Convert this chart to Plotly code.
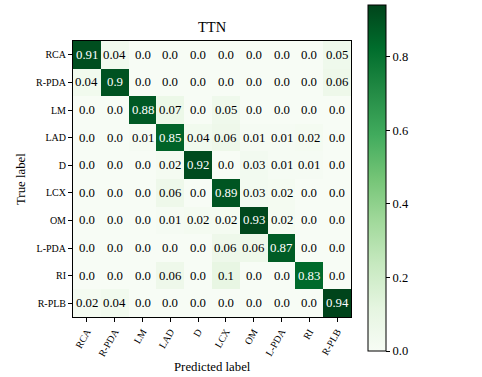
import plotly.graph_objects as go

# Class names (same order for true and predicted axes)
classes = ["RCA", "R-PDA", "LM", "LAD", "D", "LCX", "OM", "L-PDA", "RI", "R-PLB"]

# Normalised confusion matrix, rows = true label, columns = predicted label
row_rca   = [0.91, 0.04, 0.0, 0.0, 0.0, 0.0, 0.0, 0.0, 0.0, 0.05]
row_rpda  = [0.04, 0.9, 0.0, 0.0, 0.0, 0.0, 0.0, 0.0, 0.0, 0.06]
row_lm    = [0.0, 0.0, 0.88, 0.07, 0.0, 0.05, 0.0, 0.0, 0.0, 0.0]
row_lad   = [0.0, 0.0, 0.01, 0.85, 0.04, 0.06, 0.01, 0.01, 0.02, 0.0]
row_d     = [0.0, 0.0, 0.0, 0.02, 0.92, 0.0, 0.03, 0.01, 0.01, 0.0]
row_lcx   = [0.0, 0.0, 0.0, 0.06, 0.0, 0.89, 0.03, 0.02, 0.0, 0.0]
row_om    = [0.0, 0.0, 0.0, 0.01, 0.02, 0.02, 0.93, 0.02, 0.0, 0.0]
row_lpda  = [0.0, 0.0, 0.0, 0.0, 0.0, 0.06, 0.06, 0.87, 0.0, 0.0]
row_ri    = [0.0, 0.0, 0.0, 0.06, 0.0, 0.1, 0.0, 0.0, 0.83, 0.0]
row_rplb  = [0.02, 0.04, 0.0, 0.0, 0.0, 0.0, 0.0, 0.0, 0.0, 0.94]

matrix = [row_rca, row_rpda, row_lm, row_lad, row_d,
          row_lcx, row_om, row_lpda, row_ri, row_rplb]

cbar_ticks = [0.0, 0.2, 0.4, 0.6, 0.8]

FONT = "Liberation Serif"

greens = [
    [0.000, "#f7fcf5"], [0.125, "#e5f5e0"], [0.250, "#c7e9c0"],
    [0.375, "#a1d99b"], [0.500, "#74c476"], [0.625, "#41ab5d"],
    [0.750, "#238b45"], [0.875, "#006d2c"], [1.000, "#00441b"],
]

zmax = max(max(r) for r in matrix)
thresh = zmax / 2.0

L, R, T, B = 73, 131, 41, 60
W, H = 482, 377
pw, ph = W - L - R, H - T - B

# Colorbar box: left edge at x=368 px, spanning y=5..351 px
cb_top, cb_bot = 5, 351

fig = go.Figure()
fig.add_trace(go.Heatmap(
    z=matrix, x=classes, y=classes,
    colorscale=greens, zmin=0, zmax=zmax,
    hoverinfo="skip",
    colorbar=dict(
        x=(368 - L) / pw, xanchor="left", xref="paper", xpad=0,
        y=(H - B - (cb_top + cb_bot) / 2) / ph, yanchor="middle", ypad=0,
        thickness=18, thicknessmode="pixels",
        len=cb_bot - cb_top, lenmode="pixels",
        outlinecolor="black", outlinewidth=1,
        ticks="outside", ticklen=4, tickcolor="black",
        tickvals=cbar_ticks, ticktext=[f"{v:.1f}" for v in cbar_ticks],
        tickfont=dict(family=FONT, size=12.5, color="black"),
    ),
))

# Cell value labels, white on dark cells
annotations = []
for i, row in enumerate(matrix):
    for j, v in enumerate(row):
        annotations.append(dict(
            x=classes[j], y=classes[i], xref="x", yref="y",
            text=str(v), showarrow=False,
            font=dict(family=FONT, size=12.8,
                      color="white" if v > thresh else "black"),
        ))

# Title and axis labels, placed from pixel targets converted to paper coordinates
annotations += [
    dict(text="TTN", x=0.5, y=(H - B - 27) / ph, yanchor="middle",
         xref="paper", yref="paper", showarrow=False,
         font=dict(family=FONT, size=14.5, color="black")),
    dict(text="Predicted label", x=0.5, y=(H - B - 367) / ph, yanchor="middle",
         xref="paper", yref="paper", showarrow=False,
         font=dict(family=FONT, size=12.8, color="black")),
    dict(text="True label", x=(21 - L) / pw, xanchor="center", y=0.5,
         xref="paper", yref="paper", textangle=-90, showarrow=False,
         font=dict(family=FONT, size=12.8, color="black")),
]

axis_common = dict(
    showgrid=False, zeroline=False,
    showline=True, linecolor="black", linewidth=1, mirror=True,
    ticks="outside", ticklen=4, tickcolor="black", tickwidth=1,
    tickfont=dict(family=FONT, size=10, color="black"),
)

fig.update_layout(
    width=W, height=H,
    margin=dict(l=L, r=R, t=T, b=B),
    paper_bgcolor="white", plot_bgcolor="white",
    xaxis=dict(**axis_common, tickangle=-60),
    yaxis=dict(**axis_common, autorange="reversed"),
    annotations=annotations,
    font=dict(family=FONT),
)

fig.write_html("out.html")
